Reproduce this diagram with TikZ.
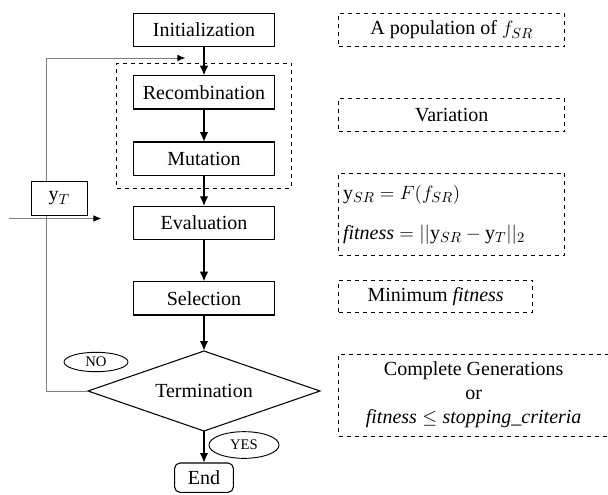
\documentclass[tikz,border=0pt]{standalone}
\usepackage{amsmath}
\usepackage{fontspec}
\setmainfont{Liberation Serif}
\usepackage{tikz}
\usetikzlibrary{shapes,arrows.meta,positioning,fit}

\begin{document}
\begin{tikzpicture}[
    x=0.75pt, y=-0.75pt,
    font=\fontsize{15}{18}\selectfont,
    box/.style={rectangle, draw, line width=0.8pt, minimum width=106pt, minimum height=25pt, inner sep=0pt, outer sep=0pt},
    note/.style={rectangle, draw, dashed, line width=0.7pt, minimum height=25pt, inner sep=2pt, outer sep=0pt},
    arrow/.style={-{Latex[length=7.5pt,width=6.5pt]}, line width=2pt},
    loopline/.style={draw=gray, line width=0.7pt, -{Latex[black,length=6pt,width=5pt]}},
    answer/.style={ellipse, draw, line width=0.7pt, inner sep=0pt, font=\fontsize{11}{13}\selectfont}
]
    \useasboundingbox (0,0) rectangle (608,494);

    % main flow
    \node[box] (init) at (204,30) {Initialization};
    \node[box, below=21.75pt of init] (recomb) {Recombination};
    \node[box, below=24.75pt of recomb] (mut) {Mutation};
    \node[box, below=23.25pt of mut] (eval) {Evaluation};
    \node[box, below=31.5pt of eval] (sel) {Selection};
    \node[diamond, draw, line width=0.8pt, aspect=2.9, minimum width=174pt, minimum height=60pt, inner sep=0pt, outer sep=0pt, below=27pt of sel] (term) {Termination};
    \node[box, rounded corners=4pt, minimum width=44pt, minimum height=22pt, below=24pt of term] (finish) {End};

    \node[draw, dashed, line width=0.7pt, inner xsep=12.4pt, inner ysep=9.5pt, fit=(recomb)(mut)] (group) {};

    \draw[arrow] (init) -- (recomb);
    \draw[arrow] (recomb) -- (mut);
    \draw[arrow] (mut) -- (eval);
    \draw[arrow] (eval) -- (sel);
    \draw[arrow] (sel) -- (term);
    \draw[arrow] (term) -- (finish);

    \node[answer, minimum width=48pt, minimum height=14.5pt, xshift=6pt, yshift=21.75pt] (no) at (term.west) {NO};
    \node[answer, minimum width=52.5pt, minimum height=20pt, xshift=30pt, yshift=-10.5pt] (yes) at (term.south) {YES};

    % loop back and target
    \coordinate[xshift=-14pt, yshift=-8.5pt] (looptop) at (init.south);
    \draw[loopline] (term.west) -- ++(-31.5pt,0) |- (looptop);
    \coordinate[xshift=-93pt, yshift=3.4pt] (instart) at (eval.west);
    \coordinate[xshift=-24pt, yshift=3.4pt] (inend) at (eval.west);
    \draw[loopline] (instart) -- (inend);
    \node[box, fill=white, minimum width=42pt, minimum height=25.5pt, left=34.5pt of eval, yshift=18.4pt] (target) {$\mathrm{y}_T$};

    % notes
    \node[note, minimum width=169.5pt, right=48pt of init] (pop) {A population of $f_{SR}$};
    \node[note, minimum width=169.5pt, anchor=west, yshift=7.9pt] (var) at (pop.west |- group) {Variation};
    \node[note, minimum width=169.5pt, minimum height=61.5pt, text width=163pt, align=left, anchor=west, yshift=6.4pt] (fit) at (pop.west |- eval)
        {$\mathrm{y}_{SR}=F(f_{SR})$\\[12pt]$\mathit{fitness}=||\mathrm{y}_{SR}-\mathrm{y}_T||_2$};
    \node[note, minimum width=145.5pt, minimum height=24pt, anchor=west, yshift=1.5pt] (minfit) at (pop.west |- sel) {Minimum $\mathit{fitness}$};
    \node[note, minimum width=202.5pt, minimum height=61.5pt, align=center, anchor=west, yshift=-3pt] (crit) at (pop.west |- term)
        {Complete Generations\\or\\$\mathit{fitness}\leq \mathit{stopping\_criteria}$};
\end{tikzpicture}
\end{document}
